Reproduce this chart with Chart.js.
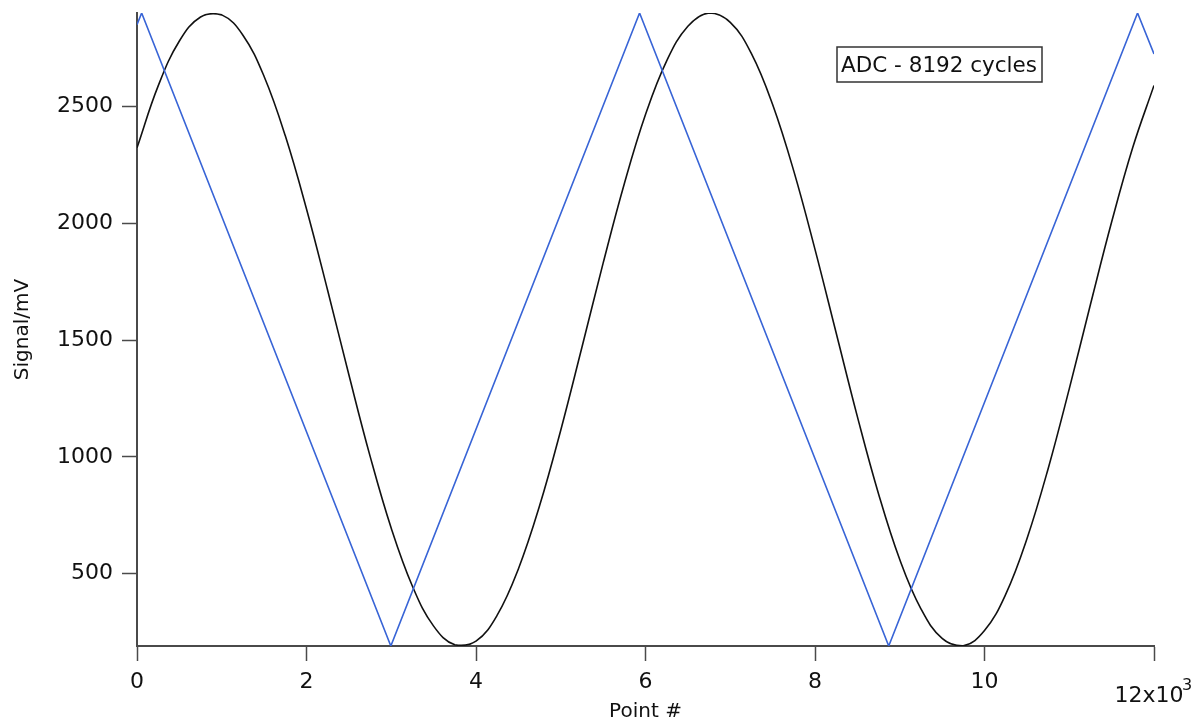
<!DOCTYPE html>
<html>
<head>
<meta charset="utf-8">
<script src="https://cdn.jsdelivr.net/npm/chart.js@4/dist/chart.umd.min.js"></script>
<style>
  html, body { margin: 0; padding: 0; background: #fff; }
  #wrap { width: 1200px; height: 727px; }
</style>
</head>
<body>
<div id="wrap"><canvas id="adcChart" width="1200" height="727"></canvas></div>
<script>
  // sample points along the x axis (Point #)
  const pointX = [0, 250, 500, 750, 1000, 1250, 1500, 1750, 2000, 2250, 2500, 2750,
    3000, 3250, 3500, 3750, 4000, 4250, 4500, 4750, 5000, 5250, 5500, 5750,
    6000, 6250, 6500, 6750, 7000, 7250, 7500, 7750, 8000, 8250, 8500, 8750,
    9000, 9250, 9500, 9750, 10000, 10250, 10500, 10750, 11000, 11250, 11500, 11750, 12000];
  // black trace (mV)
  const blackY = [2323, 2588, 2780, 2883, 2892, 2805, 2628, 2374, 2061, 1712, 1351, 1003,
    694, 446, 275, 195, 211, 322, 520, 790, 1114, 1469, 1829, 2169,
    2465, 2695, 2843, 2900, 2860, 2726, 2508, 2223, 1888, 1530, 1172, 841,
    560, 349, 223, 191, 256, 411, 648, 948, 1291, 1652, 2005, 2325, 2590];
  // blue triangle trace: corners only
  const blueX = [0, 55, 2995, 5930, 8870, 11806, 12000];
  const blueY = [2850, 2900, 190, 2900, 190, 2900, 2725];

  const xTicks = [0, 2000, 4000, 6000, 8000, 10000, 12000];
  const yTicks = [500, 1000, 1500, 2000, 2500];
  const xMin = 0, xMax = 12000, yMin = 190, yMax = 2900;

  const legendText = 'ADC - 8192 cycles';
  const axisColor = '#4a4a4a';
  const textColor = '#111';

  function toPoints(xs, ys) {
    return xs.map((x, i) => ({ x: x, y: ys[i] }));
  }

  // legend box + the "12x10^3" end label
  const extras = {
    id: 'extras',
    afterDraw(chart) {
      const ctx = chart.ctx;
      const xs = chart.scales.x;
      ctx.save();
      ctx.fillStyle = textColor;
      ctx.textBaseline = 'alphabetic';

      // last x label with exponent
      ctx.font = '22px "DejaVu Sans"';
      ctx.textAlign = 'center';
      const px = xs.getPixelForValue(12000);
      ctx.fillText('12x10', px - 5, 702);
      ctx.font = '16px "DejaVu Sans"';
      ctx.textAlign = 'left';
      ctx.fillText('3', px + 28, 690);

      // legend box
      ctx.font = '21.5px "DejaVu Sans"';
      ctx.textAlign = 'left';
      ctx.fillStyle = '#fff';
      ctx.fillRect(837, 47, 205, 35);
      ctx.strokeStyle = '#333';
      ctx.lineWidth = 1.5;
      ctx.strokeRect(837, 47, 205, 35);
      ctx.fillStyle = textColor;
      ctx.fillText(legendText, 841, 72);
      ctx.restore();
    }
  };

  const ctx = document.getElementById('adcChart').getContext('2d');
  new Chart(ctx, {
    type: 'line',
    data: {
      datasets: [{
        label: 'triangle',
        data: toPoints(blueX, blueY),
        borderColor: '#3864d6',
        borderWidth: 1.6,
        pointRadius: 0,
        tension: 0
      }, {
        label: 'ADC',
        data: toPoints(pointX, blackY),
        borderColor: '#111',
        borderWidth: 1.6,
        pointRadius: 0,
        tension: 0.4
      }]
    },
    options: {
      responsive: false,
      animation: false,
      devicePixelRatio: 1,
      layout: { padding: { top: 0, right: 46, bottom: 0, left: 0 } },
      plugins: {
        legend: { display: false },
        tooltip: { enabled: false }
      },
      scales: {
        x: {
          type: 'linear',
          min: xMin,
          max: xMax,
          afterBuildTicks: s => { s.ticks = xTicks.map(v => ({ value: v })); },
          afterFit: s => { s.height = 81; },
          ticks: {
            color: textColor,
            font: { family: 'DejaVu Sans', size: 22 },
            padding: 8,
            maxRotation: 0,
            autoSkip: false,
            callback: v => (v === 12000 ? '' : String(v / 1000))
          },
          grid: { drawOnChartArea: false, drawTicks: true, tickLength: 15, tickColor: axisColor, tickWidth: 1.5 },
          border: { display: true, color: axisColor, width: 2 },
          title: {
            display: true,
            text: 'Point #',
            color: textColor,
            font: { family: 'DejaVu Sans', size: 20 },
            padding: { top: 0, bottom: 3 }
          }
        },
        y: {
          min: yMin,
          max: yMax,
          afterBuildTicks: s => { s.ticks = yTicks.map(v => ({ value: v })); },
          afterFit: s => { s.width = 137; s.paddingTop = 13; },
          ticks: {
            color: textColor,
            font: { family: 'DejaVu Sans', size: 22 },
            padding: 9,
            callback: v => String(v)
          },
          grid: { drawOnChartArea: false, drawTicks: true, tickLength: 15, tickColor: axisColor, tickWidth: 1.5 },
          border: { display: true, color: axisColor, width: 2 },
          title: {
            display: true,
            text: 'Signal/mV',
            color: textColor,
            font: { family: 'DejaVu Sans', size: 20 },
            padding: { top: 11, bottom: 0 }
          }
        }
      }
    },
    plugins: [extras]
  });
</script>
</body>
</html>
